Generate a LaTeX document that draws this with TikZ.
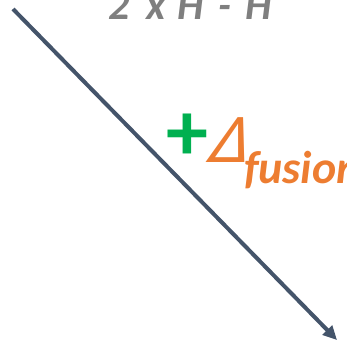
\documentclass[tikz,border=0pt]{standalone}
\usepackage{fontspec}
\setmainfont{Carlito}
\usetikzlibrary{arrows.meta}
\definecolor{linecol}{HTML}{44546A}
\definecolor{graycol}{HTML}{7F7F7F}
\definecolor{greencol}{HTML}{00B050}
\definecolor{orangecol}{HTML}{ED7D31}
\tikzset{
  lbl/.style={inner sep=0pt, outer sep=0pt, anchor=base west},
  arrowline/.style={draw=linecol, line width=4pt, -{Triangle[length=14pt,width=13pt]}}
}
\begin{document}
\begin{tikzpicture}[x=1pt,y=-1pt]
\useasboundingbox (0,0) rectangle (347,340);
\clip (0,0) rectangle (347,340);
\coordinate (s) at (13,9);
\coordinate (e) at (337,340);
\draw[arrowline] (s) -- (e);
\node[lbl, text=graycol, font=\fontsize{42}{42}\selectfont\bfseries\itshape] (top) at (108,19) {2\hspace{17pt}x\hspace{12pt}H\hspace{14pt}-\hspace{15pt}H};
\node[inner sep=0pt, outer sep=0pt, anchor=center, text=greencol, font=\fontsize{84}{84}\selectfont\bfseries] (plus) at (187,137) {+};
\node[lbl, text=orangecol, font=\fontsize{70}{70}\selectfont\itshape, xslant=0.22, transform shape] (delta) at (207,162) {Δ};
\node[lbl, text=orangecol, font=\fontsize{46}{46}\selectfont\bfseries\itshape] (fus) at (244,183) {fusion};
\end{tikzpicture}
\end{document}
